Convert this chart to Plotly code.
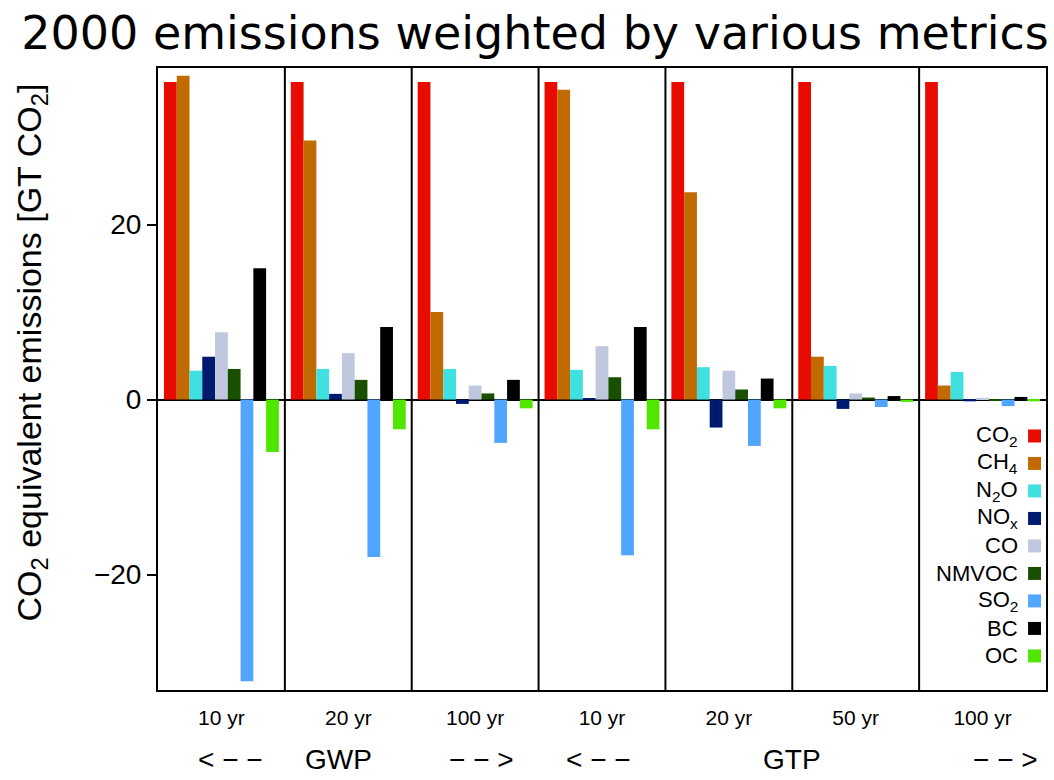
import plotly.graph_objects as go

# Metric / time-horizon categories along the x axis
horizons = ["10 yr", "20 yr", "100 yr", "10 yr", "20 yr", "50 yr", "100 yr"]

# Species names (legend labels) and colours
species = ["CO<sub>2</sub>", "CH<sub>4</sub>", "N<sub>2</sub>O", "NO<sub>x</sub>", "CO",
           "NMVOC", "SO<sub>2</sub>", "BC", "OC"]
colors = ["#E80B00", "#C06A00", "#40E0E0", "#001A70", "#C0C8E0",
          "#185000", "#50A5FF", "#000000", "#50E600"]

# CO2-equivalent emissions [Gt CO2] per species, for GWP10, GWP20, GWP100, GTP10, GTP20, GTP50, GTP100
co2   = [36.3, 36.3, 36.3, 36.3, 36.3, 36.3, 36.3]
ch4   = [37.0, 29.6, 10.0, 35.4, 23.7, 4.9, 1.6]
n2o   = [3.3, 3.5, 3.5, 3.4, 3.7, 3.85, 3.15]
nox   = [4.9, 0.65, -0.5, 0.1, -3.2, -1.07, -0.2]
co    = [7.7, 5.3, 1.6, 6.1, 3.3, 0.7, 0.2]
nmvoc = [3.5, 2.25, 0.7, 2.55, 1.15, 0.23, -0.1]
so2   = [-32.2, -18.0, -4.95, -17.8, -5.3, -0.85, -0.75]
bc    = [15.0, 8.3, 2.25, 8.3, 2.4, 0.4, 0.3]
oc    = [-6.0, -3.4, -1.0, -3.4, -1.0, -0.27, -0.2]

series = [co2, ch4, n2o, nox, co, nmvoc, so2, bc, oc]
xpos = list(range(len(horizons)))

FONT = "Liberation Sans"

fig = go.Figure()
for name, vals, col in zip(species, series, colors):
    fig.add_trace(go.Bar(x=xpos, y=vals, name=name, marker_color=col,
                         marker_line_width=0, showlegend=False))

# Vertical separators between the metric panels
for i in range(len(horizons) - 1):
    fig.add_shape(type="line", xref="x", yref="paper", x0=i + 0.5, x1=i + 0.5,
                  y0=0, y1=1, line=dict(color="black", width=2))

# Legend: right-aligned labels with colour squares to their right
leg_x_text = 0.971
leg_sq_x0, leg_sq_x1 = 0.9798, 0.9944
leg_y0, leg_dy, sq_h = 0.4084, 0.0442, 0.0209
for k, (name, col) in enumerate(zip(species, colors)):
    yc = leg_y0 - k * leg_dy
    fig.add_annotation(xref="paper", yref="paper", x=leg_x_text, y=yc, text=name,
                       showarrow=False, xanchor="right", yanchor="middle",
                       font=dict(family=FONT, size=22, color="black"))
    fig.add_shape(type="rect", xref="paper", yref="paper", x0=leg_sq_x0, x1=leg_sq_x1,
                  y0=yc - sq_h / 2, y1=yc + sq_h / 2, fillcolor=col, line_width=0)

# Metric group labels under the horizon labels
groups = [("< − −", 0.07), ("GWP", 0.92), ("− − >", 2.05),
          ("< − −", 2.97), ("GTP", 4.5), ("− − >", 6.18)]
for txt, xx in groups:
    fig.add_annotation(xref="x", yref="paper", x=xx, y=-0.1125, text=txt,
                       showarrow=False, xanchor="center", yanchor="middle",
                       font=dict(family=FONT, size=28, color="black"))

# Y axis title
fig.add_annotation(xref="paper", yref="paper", x=-0.1427, y=0.543,
                   text="CO<sub>2</sub> equivalent emissions [GT CO<sub>2</sub>]",
                   textangle=-90, showarrow=False, xanchor="center", yanchor="middle",
                   font=dict(family=FONT, size=34, color="black"))

fig.update_layout(
    width=1054, height=780,
    margin=dict(l=158, r=6, t=68, b=90),
    paper_bgcolor="white", plot_bgcolor="white",
    barmode="group", bargap=0.094, bargroupgap=0,
    title=dict(text="2000 emissions weighted by various metrics",
               x=0.5076, xanchor="center", y=0.9577, yanchor="middle",
               font=dict(family="DejaVu Sans", size=46, color="black")),
    xaxis=dict(range=[-0.5, 6.5], tickvals=xpos, ticktext=horizons,
               showgrid=False, zeroline=False, showline=True, mirror=True,
               linecolor="black", linewidth=2, ticks="",
               ticklabelstandoff=8,
               tickfont=dict(family=FONT, size=21, color="black")),
    yaxis=dict(range=[-33.2, 37.9], tickvals=[-20, 0, 20],
               showgrid=False, zeroline=True, zerolinecolor="black", zerolinewidth=1.5,
               showline=True, mirror=True, linecolor="black", linewidth=2,
               ticks="outside", ticklen=9, tickwidth=2, tickcolor="black",
               tickfont=dict(family=FONT, size=28, color="black")),
)

fig.write_html("out.html")
